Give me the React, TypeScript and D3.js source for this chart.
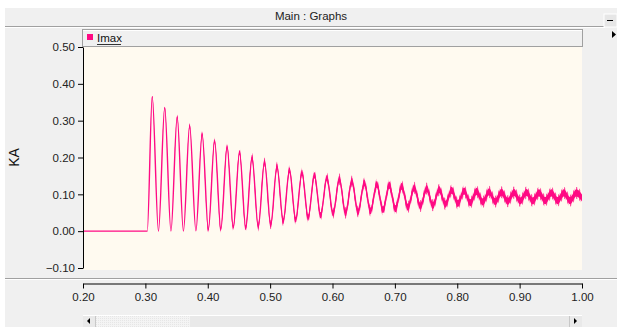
import { area, axisBottom, axisLeft, curveMonotoneX, format, line, scaleLinear, select } from "d3";
import React, { useEffect, useRef } from "react";

// turning points of the Imax trace (s, kA)
const startTimes = [0.2, 0.303];
const startValues = [0, 0];
const peakTimes = [
  0.311, 0.331, 0.351, 0.371, 0.391, 0.411, 0.431, 0.451, 0.471, 0.491, 0.511, 0.531,
  0.551, 0.571, 0.591, 0.611, 0.631, 0.651, 0.671, 0.691, 0.711, 0.731, 0.751, 0.771,
  0.791, 0.811, 0.831, 0.851, 0.871, 0.891, 0.911, 0.931, 0.951, 0.971, 0.991,
];
const peakValues = [
  0.365, 0.335, 0.31, 0.286, 0.264, 0.245, 0.229, 0.214, 0.2, 0.188, 0.176, 0.166,
  0.159, 0.152, 0.145, 0.142, 0.136, 0.131, 0.127, 0.125, 0.122, 0.118, 0.116, 0.113,
  0.111, 0.109, 0.108, 0.107, 0.106, 0.105, 0.105, 0.104, 0.104, 0.104, 0.104,
];
const troughTimes = [
  0.321, 0.341, 0.361, 0.381, 0.401, 0.421, 0.441, 0.461, 0.481, 0.501, 0.521, 0.541,
  0.561, 0.581, 0.601, 0.621, 0.641, 0.661, 0.681, 0.701, 0.721, 0.741, 0.761, 0.781,
  0.801, 0.821, 0.841, 0.861, 0.881, 0.901, 0.921, 0.941, 0.961, 0.981, 1.0,
];
const troughValues = [
  0, 0, 0, 0.001, 0.004, 0.005, 0.01, 0.009, 0.011, 0.017, 0.027, 0.031,
  0.037, 0.043, 0.048, 0.049, 0.052, 0.055, 0.058, 0.061, 0.065, 0.068, 0.07, 0.073,
  0.075, 0.077, 0.079, 0.08, 0.081, 0.082, 0.082, 0.083, 0.083, 0.083, 0.09,
];
// high frequency ripple on top of each cycle (half height, kA)
const rippleValues = [
  0.004, 0.005, 0.006, 0.007, 0.008, 0.009, 0.01, 0.011, 0.012, 0.012, 0.013, 0.013,
  0.014, 0.014, 0.014, 0.015, 0.015, 0.015, 0.015, 0.016, 0.016, 0.016, 0.016, 0.016,
  0.016, 0.016, 0.016, 0.016, 0.016, 0.016, 0.016, 0.016, 0.016, 0.016, 0.016,
];

const yTicks = [-0.1, 0, 0.1, 0.2, 0.3, 0.4, 0.5];
const xTicks = [0.2, 0.3, 0.4, 0.5, 0.6, 0.7, 0.8, 0.9, 1.0];

const W = 617;
const H = 327;
const plot = { left: 83, right: 582, top: 47, bottom: 268 };
const pink = "#ff0a84";
const font = "'Liberation Sans', Arial, sans-serif";

type Pt = { t: number; v: number; r: number };

function buildPoints(): Pt[] {
  const pts: Pt[] = startTimes.map((t, i) => ({ t, v: startValues[i], r: 0 }));
  peakTimes.forEach((t, i) => {
    pts.push({ t, v: peakValues[i], r: rippleValues[i] });
    pts.push({ t: troughTimes[i], v: troughValues[i], r: i < 4 ? 0 : rippleValues[i] });
  });
  return pts;
}

export default function App() {
  const xAxisRef = useRef<SVGGElement>(null);
  const yAxisRef = useRef<SVGGElement>(null);

  const x = scaleLinear().domain([0.2, 1.0]).range([plot.left, plot.right]);
  const y = scaleLinear().domain([-0.1, 0.5]).range([plot.bottom, plot.top]);
  const pts = buildPoints();

  const trace = line<Pt>()
    .x((d) => x(d.t))
    .y((d) => y(d.v))
    .curve(curveMonotoneX);
  const outer = area<Pt>()
    .x((d) => x(d.t))
    .y0((d) => y(d.v - d.r))
    .y1((d) => y(d.v + d.r))
    .curve(curveMonotoneX);
  const inner = area<Pt>()
    .x((d) => x(d.t))
    .y0((d) => y(d.v - d.r * 0.6))
    .y1((d) => y(d.v + d.r * 0.6))
    .curve(curveMonotoneX);

  useEffect(() => {
    const yAxis = axisLeft(y)
      .tickValues(yTicks)
      .tickFormat((d) => format(".2f")(d as number))
      .tickSize(5)
      .tickSizeOuter(0)
      .tickPadding(3);
    const gy = select(yAxisRef.current).call(yAxis as any);
    gy.selectAll("text").attr("font-family", font).attr("font-size", 11.5).attr("fill", "#222");
    gy.select(".domain").attr("stroke", "#000");

    const xAxis = axisBottom(x)
      .tickValues(xTicks)
      .tickFormat((d) => format(".2f")(d as number))
      .tickSize(5)
      .tickSizeOuter(0)
      .tickPadding(4);
    const gx = select(xAxisRef.current).call(xAxis as any);
    gx.selectAll("text").attr("font-family", font).attr("font-size", 11.5).attr("fill", "#222");
    gx.select(".domain").attr("stroke", "#000");
  }, []);

  return (
    <svg width={W} height={H} style={{ position: "fixed", left: 0, top: 0, background: "#fff" }}>
      <defs>
        <pattern id="ripple" width="3" height="4" patternUnits="userSpaceOnUse">
          <rect x="0" y="0" width="1.3" height="4" fill="#ff4f9f" />
        </pattern>
        <pattern id="thumb" width="2" height="2" patternUnits="userSpaceOnUse">
          <rect width="2" height="2" fill="#f4f4f4" />
          <rect width="1" height="1" fill="#e6e6e6" />
        </pattern>
        <clipPath id="plotClip">
          <rect x={plot.left} y={plot.top} width={plot.right - plot.left} height={plot.bottom - plot.top + 2} />
        </clipPath>
      </defs>

      {/* window panel */}
      <rect x={5} y={8} width={W - 5} height={H - 8} fill="#f0f0f0" />
      <text x={311} y={20} textAnchor="middle" fontFamily={font} fontSize={11.5} fill="#222">
        Main : Graphs
      </text>
      <line x1={5} x2={W - 12} y1={26.5} y2={26.5} stroke="#a0a0a0" />
      <line x1={5} x2={W - 12} y1={27.5} y2={27.5} stroke="#fff" />
      <rect x={W - 13} y={14} width={13} height={13} fill="#e6e6e6" stroke="#fff" />
      <line x1={W - 10} x2={W - 4} y1={20.5} y2={20.5} stroke="#000" />
      <path d={`M${W - 5},31 L${W - 1},34.5 L${W - 5},38 Z`} fill="#000" />

      {/* legend bar */}
      <rect x={82.5} y={29.5} width={500} height={17} fill="#f0f0f0" stroke="#a0a0a0" />
      <line x1={83} x2={582} y1={30.5} y2={30.5} stroke="#fff" />
      <rect x={87} y={34} width={6} height={6} fill={pink} />
      <text x={97} y={42} fontFamily={font} fontSize={11.5} fill="#111">
        Imax
      </text>
      <line x1={97} x2={121} y1={44.5} y2={44.5} stroke="#333" />

      {/* plot */}
      <rect x={plot.left} y={plot.top} width={plot.right - plot.left} height={plot.bottom - plot.top + 2} fill="#fffaf0" />
      <g clipPath="url(#plotClip)">
        <path d={outer(pts) ?? ""} fill="url(#ripple)" />
        <path d={inner(pts) ?? ""} fill={pink} />
        <path d={trace(pts) ?? ""} fill="none" stroke={pink} strokeWidth={1.4} />
      </g>
      <g ref={yAxisRef} transform={`translate(${plot.left},0)`} />
      <text
        transform={`translate(19,${(plot.top + plot.bottom) / 2}) rotate(-90)`}
        textAnchor="middle"
        fontFamily={font}
        fontSize={14}
        fill="#111"
      >
        KA
      </text>

      {/* x axis strip */}
      <line x1={5} x2={W} y1={278.5} y2={278.5} stroke="#a0a0a0" />
      <line x1={5} x2={W} y1={279.5} y2={279.5} stroke="#fff" />
      <g ref={xAxisRef} transform={`translate(0,283.5)`} />

      {/* scroll bar */}
      <rect x={83} y={315} width={499} height={12} fill="#e9e9e9" />
      <line x1={83} x2={582} y1={315.5} y2={315.5} stroke="#fff" />
      <rect x={96} y={316} width={94} height={11} fill="url(#thumb)" />
      <line x1={95.5} x2={95.5} y1={316} y2={327} stroke="#c8c8c8" />
      <line x1={569.5} x2={569.5} y1={316} y2={327} stroke="#c8c8c8" />
      <path d="M90,318 L87,321 L90,324 Z" fill="#000" />
      <path d="M574,318 L577,321 L574,324 Z" fill="#000" />
    </svg>
  );
}
